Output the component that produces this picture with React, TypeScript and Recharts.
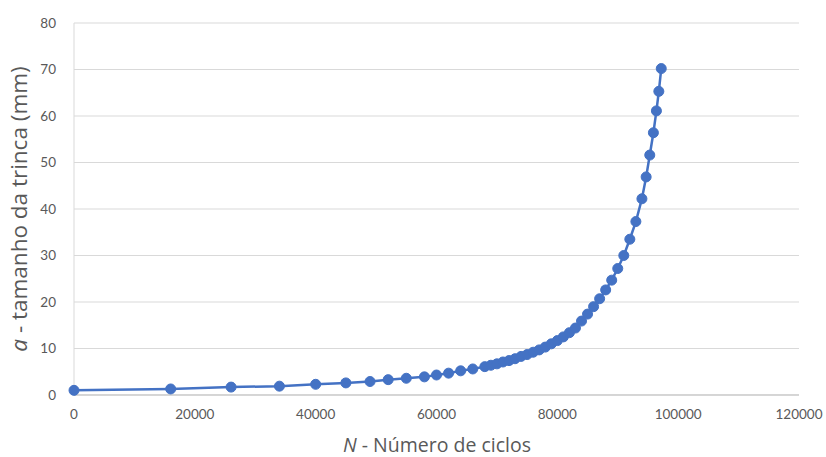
import React from 'react';
import { LineChart, Line, XAxis, YAxis, CartesianGrid, Label } from 'recharts';

// N (ciclos)
const cycles = [
  0, 16000, 26000, 34000, 40000, 45000, 49000, 52000, 55000, 58000, 60000, 62000, 64000, 66000,
  68000, 69000, 70000, 71000, 72000, 73000, 74000, 75000, 76000, 77000, 78000, 79000, 80000,
  81000, 82000, 83000, 84000, 85000, 86000, 87000, 88000, 89000, 90000, 91000, 92000, 93000,
  94000, 94700, 95300, 95900, 96400, 96800, 97200,
];

// a (mm)
const crackSize = [
  1.0, 1.3, 1.7, 1.9, 2.3, 2.6, 2.9, 3.3, 3.6, 3.9, 4.3, 4.7, 5.2, 5.6,
  6.1, 6.4, 6.7, 7.1, 7.4, 7.8, 8.3, 8.7, 9.2, 9.7, 10.3, 11.0, 11.7,
  12.5, 13.4, 14.4, 15.9, 17.4, 19.0, 20.7, 22.6, 24.7, 27.2, 30.0, 33.5, 37.3,
  42.2, 46.9, 51.6, 56.4, 61.1, 65.3, 70.2,
];

const xTicks = [0, 20000, 40000, 60000, 80000, 100000, 120000];
const yTicks = [0, 10, 20, 30, 40, 50, 60, 70, 80];

const data = cycles.map((n, i) => ({ n, a: crackSize[i] }));

const TICK_FONT = 'Lato, "Open Sans", sans-serif';
const TITLE_FONT = '"Open Sans", Lato, sans-serif';
const GREY = '#595959';
const BLUE = '#4472C4';

export default function App() {
  return (
    <div style={{ position: 'absolute', left: 0, top: 0, width: 826, height: 457, background: '#fff' }}>
      <LineChart
        width={826}
        height={457}
        data={data}
        margin={{ top: 23, right: 27, bottom: 32, left: 14 }}
      >
        <CartesianGrid vertical={false} stroke="#d9d9d9" strokeWidth={1} />
        <XAxis
          dataKey="n"
          type="number"
          domain={[0, 120000]}
          ticks={xTicks}
          interval={0}
          height={30}
          stroke="#bfbfbf"
          tickLine={false}
          tick={{ fill: GREY, fontSize: 13.5, fontFamily: TICK_FONT }}
          tickMargin={8}
        >
          <Label
            content={() => (
              <text x={437} y={452} textAnchor="middle" fill={GREY} fontSize={19.5} fontFamily={TITLE_FONT}>
                <tspan fontStyle="italic">N</tspan>
                <tspan> - Número de ciclos</tspan>
              </text>
            )}
          />
        </XAxis>
        <YAxis
          type="number"
          domain={[0, 80]}
          ticks={yTicks}
          interval={0}
          width={60}
          stroke="#d9d9d9"
          tickLine={false}
          tick={{ fill: GREY, fontSize: 13.5, fontFamily: TICK_FONT }}
          tickMargin={12}
        >
          <Label
            content={() => (
              <text
                x={27}
                y={209}
                transform="rotate(-90 27 209)"
                textAnchor="middle"
                fill={GREY}
                fontSize={22.5}
                fontFamily={TITLE_FONT}
              >
                <tspan fontStyle="italic">a</tspan>
                <tspan> - tamanho da trinca (mm)</tspan>
              </text>
            )}
          />
        </YAxis>
        <Line
          type="linear"
          dataKey="a"
          stroke={BLUE}
          strokeWidth={2.5}
          dot={{ r: 5, fill: BLUE, stroke: BLUE, strokeWidth: 1 }}
          activeDot={false}
          isAnimationActive={false}
        />
      </LineChart>
    </div>
  );
}
